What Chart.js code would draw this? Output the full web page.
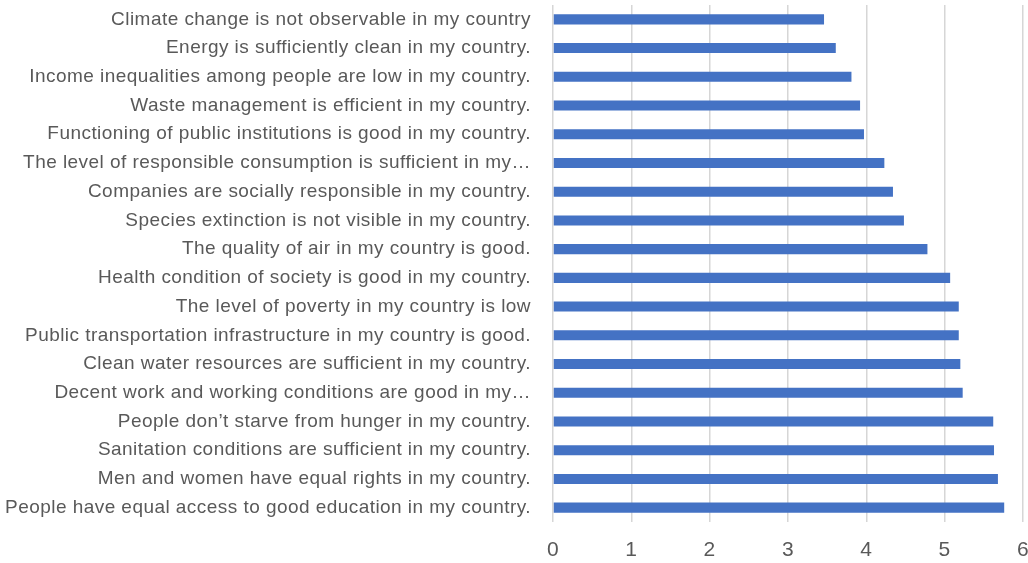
<!DOCTYPE html>
<html lang="en">
<head>
<meta charset="UTF-8">
<title>Perception of sustainability in my country</title>
<script src="https://cdn.jsdelivr.net/npm/chart.js@4.4.0/dist/chart.umd.min.js"></script>
<style>
  html, body { margin: 0; padding: 0; background: #fff; overflow: hidden; }
  .chart-container { width: 1028px; height: 563px; position: relative; }
</style>
</head>
<body>
<div class="chart-container">
  <canvas id="chart"></canvas>
</div>
<script>
// statements, top to bottom as in the picture
var statements = [
  "Climate change is not observable in my country",
  "Energy is sufficiently clean in my country.",
  "Income inequalities among people are low in my country.",
  "Waste management is efficient in my country.",
  "Functioning of public institutions is good in my country.",
  "The level of responsible consumption is sufficient in my\u2026",
  "Companies are socially responsible in my country.",
  "Species extinction is not visible in my country.",
  "The quality of air in my country is good.",
  "Health condition of society is good in my country.",
  "The level of poverty in my country is low",
  "Public transportation infrastructure in my country is good.",
  "Clean water resources are sufficient in my country.",
  "Decent work and working conditions are good in my\u2026",
  "People don\u2019t starve from hunger in my country.",
  "Sanitation conditions are sufficient in my country.",
  "Men and women have equal rights in my country.",
  "People have equal access to good education in my country."
];

// mean scores
var meanScores = [3.46, 3.61, 3.81, 3.92, 3.97, 4.23, 4.34, 4.48, 4.78,
                  5.07, 5.18, 5.18, 5.20, 5.23, 5.62, 5.63, 5.68, 5.76];

var xTicks = [0, 1, 2, 3, 4, 5, 6];

var textGray = '#595959';

// the labels in the picture are set a little loose
var spacingPlugin = {
  id: 'spacing',
  beforeDraw: function (chart) { chart.ctx.letterSpacing = '0.45px'; }
};

var ctx = document.getElementById('chart').getContext('2d');
var myChart = new Chart(ctx, {
  type: 'bar',
  data: {
    labels: statements,
    datasets: [{
      label: 'Mean',
      data: meanScores,
      backgroundColor: '#4472C4',
      borderWidth: 0,
      categoryPercentage: 1,
      barPercentage: 0.35
    }]
  },
  options: {
    indexAxis: 'y',
    responsive: true,
    maintainAspectRatio: false,
    animation: false,
    layout: { padding: { top: 5, right: 5, bottom: 0, left: 0 } },
    plugins: {
      legend: { display: false },
      tooltip: { enabled: false }
    },
    scales: {
      x: {
        min: xTicks[0],
        max: xTicks[xTicks.length - 1],
        afterBuildTicks: function (scale) {
          scale.ticks = xTicks.map(function (v) { return { value: v }; });
        },
        afterFit: function (scale) {
          scale.height = 41;
          scale.paddingLeft = 0;
          scale.paddingRight = 0;
        },
        grid: { color: '#d6d6d6', lineWidth: 1.5, drawTicks: false },
        border: { display: false },
        ticks: {
          padding: 16,
          color: textGray,
          font: { family: 'Liberation Sans', size: 21 }
        }
      },
      y: {
        afterFit: function (scale) {
          scale.width = 553;
          scale.paddingTop = 0;
          scale.paddingBottom = 0;
        },
        grid: { display: false, drawTicks: false },
        border: { display: false },
        ticks: {
          padding: 22,
          color: textGray,
          autoSkip: false,
          font: { family: 'Liberation Sans', size: 19 }
        }
      }
    }
  },
  plugins: [spacingPlugin]
});
</script>
</body>
</html>
